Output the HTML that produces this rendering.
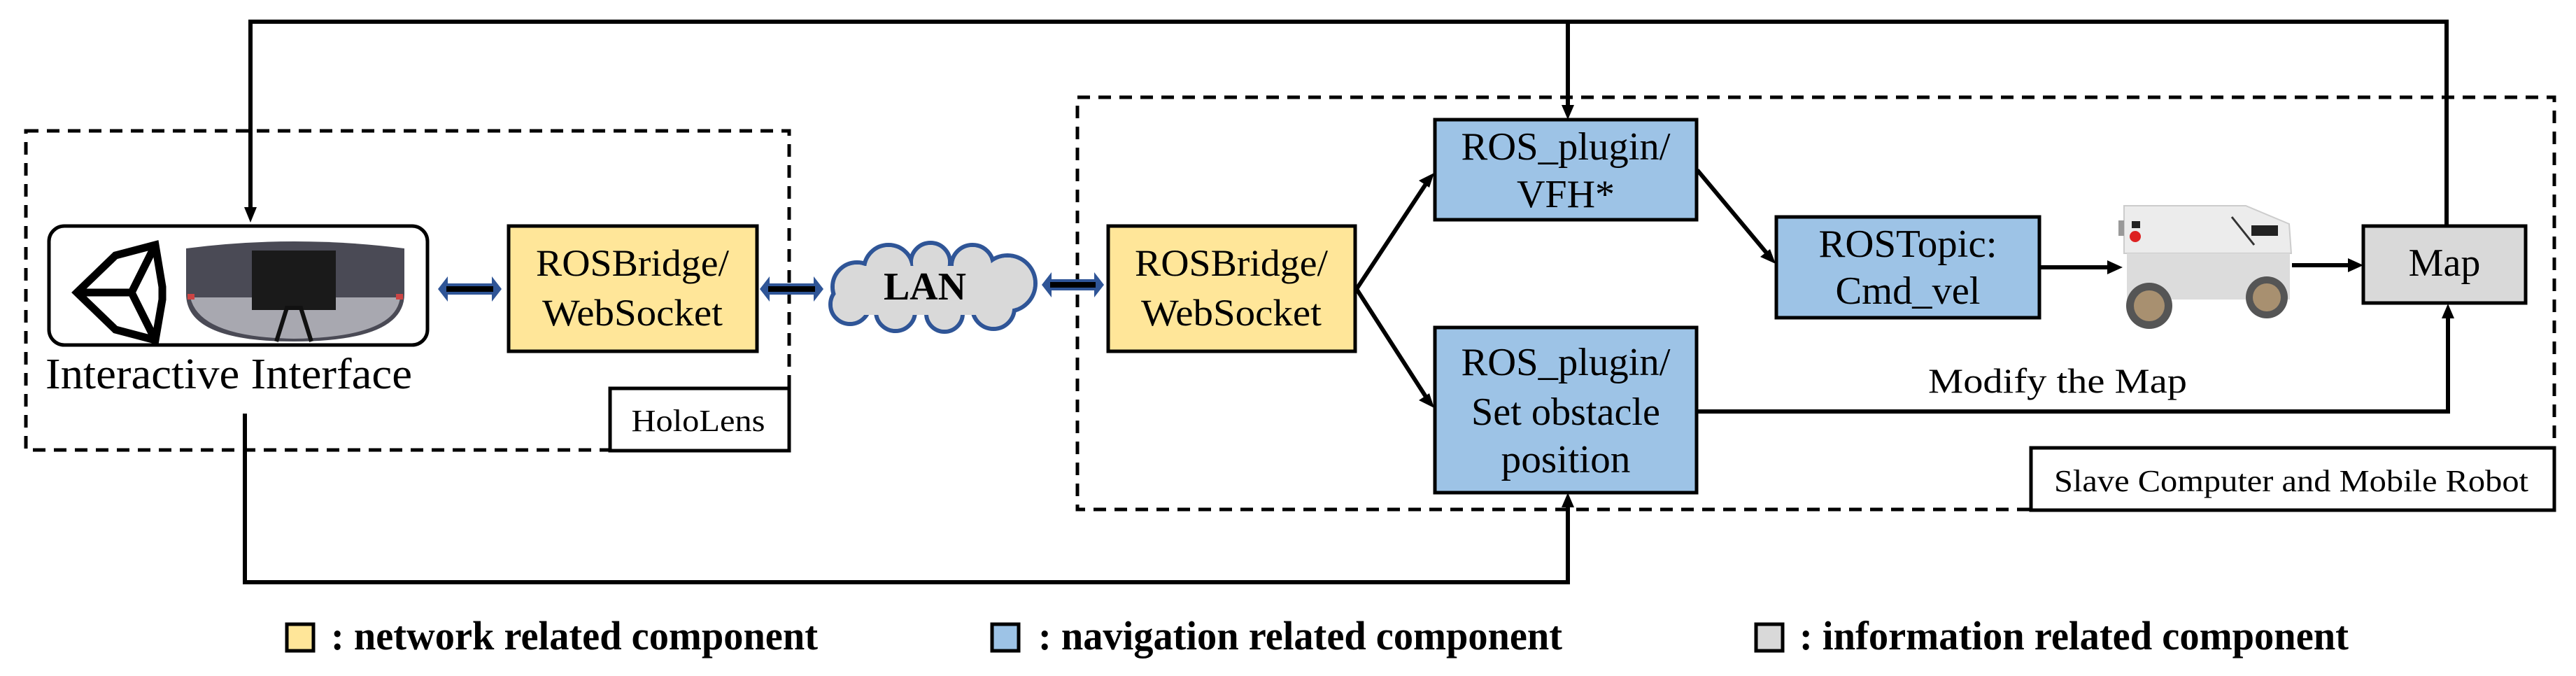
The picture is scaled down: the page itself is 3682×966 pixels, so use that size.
<!DOCTYPE html>
<html><head><meta charset="utf-8"><style>
html,body{margin:0;padding:0;background:#fff}
svg{display:block}
text{font-family:"Liberation Serif","Times New Roman","DejaVu Serif",serif;fill:#000}
</style></head><body>
<svg width="3682" height="966" viewBox="0 0 3682 966" xmlns="http://www.w3.org/2000/svg" font-family="'Liberation Serif', 'Times New Roman', 'DejaVu Serif', serif">
<!-- dashed containers -->
<rect x="37" y="187" width="1091" height="456" fill="none" stroke="#000" stroke-width="5" stroke-dasharray="18,12"/>
<rect x="1540" y="139" width="2111" height="589" fill="none" stroke="#000" stroke-width="5" stroke-dasharray="18,12"/>

<!-- top feedback line -->
<polyline points="358,300 358,31 3497,31 3497,323" fill="none" stroke="#000" stroke-width="6"/>
<polygon points="349,296 367,296 358,318" fill="#000"/>
<line x1="2241" y1="31" x2="2241" y2="155" stroke="#000" stroke-width="6"/>
<polygon points="2232,150 2250,150 2241,171" fill="#000"/>

<!-- bottom line -->
<polyline points="350,591 350,832 2241,832 2241,720" fill="none" stroke="#000" stroke-width="6"/>
<polygon points="2232,725 2250,725 2241,704" fill="#000"/>

<!-- interactive interface box -->
<rect x="70" y="323" width="541" height="170" rx="22" fill="#fff" stroke="#000" stroke-width="5"/>
<!-- unity logo -->
<g fill="none" stroke="#000" stroke-width="11" stroke-linejoin="miter">
<polygon points="110,418 165,365 222,350 232,410 232,428 222,486 165,471"/>
<polyline points="110,418 188,418 222,350"/>
<line x1="188" y1="418" x2="222" y2="486"/>
</g>
<!-- headset -->
<path d="M266,355 Q420,335 578,355 L578,420 Q578,488 420,488 Q266,488 266,420 Z" fill="#4a4a55"/>
<path d="M272,425 Q285,482 420,484 Q565,482 572,425 Z" fill="#a8a8b0"/>
<rect x="360" y="358" width="120" height="85" fill="#1a1a1a"/>
<path d="M395,488 L410,440 L430,440 L445,488" fill="none" stroke="#111" stroke-width="6"/>
<rect x="268" y="420" width="10" height="8" fill="#c44"/>
<rect x="566" y="420" width="10" height="8" fill="#c44"/>
<text x="65" y="555" font-size="62" textLength="524" lengthAdjust="spacingAndGlyphs">Interactive Interface</text>

<!-- ROSBridge 1 -->
<rect x="727" y="323" width="355" height="179" fill="#FFE699" stroke="#000" stroke-width="5"/>
<text x="904" y="394" font-size="54" text-anchor="middle" textLength="276" lengthAdjust="spacingAndGlyphs">ROSBridge/</text>
<text x="904" y="465" font-size="54" text-anchor="middle" textLength="258" lengthAdjust="spacingAndGlyphs">WebSocket</text>

<!-- HoloLens label -->
<rect x="872" y="555" width="256" height="89" fill="#fff" stroke="#000" stroke-width="5"/>
<text x="998" y="616" font-size="44" text-anchor="middle" textLength="191" lengthAdjust="spacingAndGlyphs">HoloLens</text>

<!-- double arrows -->
<g>
<polygon points="626,413 640,395 640,405 703,405 703,395 717,413 703,431 703,421 640,421 640,431" fill="#2f5597"/>
<rect x="638" y="409" width="67" height="8" fill="#000"/>
<polygon points="1086,413 1100,395 1100,405 1163,405 1163,395 1177,413 1163,431 1163,421 1100,421 1100,431" fill="#2f5597"/>
<rect x="1098" y="409" width="67" height="8" fill="#000"/>
<polygon points="1489,407 1503,389 1503,399 1564,399 1564,389 1578,407 1564,425 1564,415 1503,415 1503,425" fill="#2f5597"/>
<rect x="1501" y="403" width="65" height="8" fill="#000"/>
</g>

<!-- cloud -->
<g stroke="#2f5597" stroke-width="6" fill="#d9d9d9">
<circle cx="1225" cy="410" r="35"/><circle cx="1270" cy="385" r="35"/><circle cx="1330" cy="375" r="28"/><circle cx="1390" cy="380" r="30"/><circle cx="1440" cy="405" r="40"/><circle cx="1420" cy="440" r="30"/><circle cx="1350" cy="448" r="26"/><circle cx="1280" cy="445" r="28"/><circle cx="1215" cy="435" r="28"/>
</g>
<g fill="#d9d9d9">
<circle cx="1225" cy="410" r="32"/><circle cx="1270" cy="385" r="32"/><circle cx="1330" cy="375" r="25"/><circle cx="1390" cy="380" r="27"/><circle cx="1440" cy="405" r="37"/><circle cx="1420" cy="440" r="27"/><circle cx="1350" cy="448" r="23"/><circle cx="1280" cy="445" r="25"/><circle cx="1215" cy="435" r="25"/>
<rect x="1220" y="380" width="220" height="70"/>
</g>
<text x="1322" y="428" font-size="56" font-weight="bold" text-anchor="middle" textLength="118" lengthAdjust="spacingAndGlyphs">LAN</text>

<!-- ROSBridge 2 -->
<rect x="1584" y="323" width="353" height="179" fill="#FFE699" stroke="#000" stroke-width="5"/>
<text x="1760" y="394" font-size="54" text-anchor="middle" textLength="276" lengthAdjust="spacingAndGlyphs">ROSBridge/</text>
<text x="1760" y="465" font-size="54" text-anchor="middle" textLength="258" lengthAdjust="spacingAndGlyphs">WebSocket</text>

<!-- diagonal arrows -->
<line x1="1939" y1="413" x2="2040" y2="260" stroke="#000" stroke-width="6"/>
<polygon points="2050,247 2028,258 2043,268" fill="#000"/>
<line x1="1939" y1="413" x2="2040" y2="570" stroke="#000" stroke-width="6"/>
<polygon points="2050,583 2028,572 2043,562" fill="#000"/>
<line x1="2426" y1="243" x2="2528" y2="365" stroke="#000" stroke-width="6"/>
<polygon points="2538,377 2516,367 2530,356" fill="#000"/>

<!-- VFH -->
<rect x="2051" y="171" width="374" height="143" fill="#9DC3E6" stroke="#000" stroke-width="5"/>
<text x="2238" y="228" font-size="56" text-anchor="middle" textLength="299" lengthAdjust="spacingAndGlyphs">ROS_plugin/</text>
<text x="2238" y="296" font-size="56" text-anchor="middle">VFH*</text>

<!-- Set obstacle -->
<rect x="2051" y="468" width="374" height="236" fill="#9DC3E6" stroke="#000" stroke-width="5"/>
<text x="2238" y="536" font-size="56" text-anchor="middle" textLength="299" lengthAdjust="spacingAndGlyphs">ROS_plugin/</text>
<text x="2238" y="607" font-size="56" text-anchor="middle" textLength="270" lengthAdjust="spacingAndGlyphs">Set obstacle</text>
<text x="2238" y="675" font-size="56" text-anchor="middle" textLength="185" lengthAdjust="spacingAndGlyphs">position</text>

<!-- Modify the map line -->
<polyline points="2425,588 3499,588 3499,450" fill="none" stroke="#000" stroke-width="6"/>
<polygon points="3490,455 3508,455 3499,434" fill="#000"/>
<text x="2756" y="561" font-size="50" textLength="370" lengthAdjust="spacingAndGlyphs">Modify the Map</text>

<!-- ROSTopic -->
<rect x="2539" y="310" width="376" height="144" fill="#9DC3E6" stroke="#000" stroke-width="5"/>
<text x="2727" y="367" font-size="56" text-anchor="middle" textLength="255" lengthAdjust="spacingAndGlyphs">ROSTopic:</text>
<text x="2727" y="434" font-size="56" text-anchor="middle" textLength="207" lengthAdjust="spacingAndGlyphs">Cmd_vel</text>

<!-- arrow to robot -->
<line x1="2915" y1="382" x2="3015" y2="382" stroke="#000" stroke-width="6"/>
<polygon points="3012,372 3034,382 3012,392" fill="#000"/>

<!-- robot -->
<path d="M3036,294 L3210,294 L3272,320 L3275,362 L3036,362 Z" fill="#ececec" stroke="#ccc" stroke-width="2"/>
<rect x="3040" y="362" width="233" height="66" fill="#dcdcdc"/>
<rect x="3028" y="315" width="8" height="22" fill="#999"/>
<circle cx="3052" cy="338" r="8" fill="#d22"/>
<rect x="3047" y="316" width="12" height="10" fill="#222"/>
<rect x="3218" y="322" width="38" height="15" fill="#222"/>
<line x1="3190" y1="310" x2="3222" y2="350" stroke="#333" stroke-width="3"/>
<circle cx="3072" cy="437" r="33" fill="#555"/><circle cx="3072" cy="437" r="22" fill="#a89070"/>
<circle cx="3240" cy="425" r="30" fill="#555"/><circle cx="3240" cy="425" r="20" fill="#a89070"/>

<!-- arrow to map -->
<line x1="3276" y1="379" x2="3360" y2="379" stroke="#000" stroke-width="6"/>
<polygon points="3356,369 3378,379 3356,389" fill="#000"/>

<!-- Map -->
<rect x="3378" y="323" width="232" height="110" fill="#D9D9D9" stroke="#000" stroke-width="5"/>
<text x="3494" y="394" font-size="56" text-anchor="middle">Map</text>

<!-- Slave label -->
<rect x="2903" y="640" width="748" height="89" fill="#fff" stroke="#000" stroke-width="5"/>
<text x="2936" y="702" font-size="44" textLength="678" lengthAdjust="spacingAndGlyphs">Slave Computer and Mobile Robot</text>

<!-- legend -->
<rect x="410" y="892" width="38" height="38" fill="#FFE699" stroke="#000" stroke-width="5"/>
<text x="473" y="928" font-size="58" font-weight="bold" textLength="696" lengthAdjust="spacingAndGlyphs">: network related component</text>
<rect x="1418" y="892" width="38" height="38" fill="#9DC3E6" stroke="#000" stroke-width="5"/>
<text x="1484" y="928" font-size="58" font-weight="bold" textLength="749" lengthAdjust="spacingAndGlyphs">: navigation related component</text>
<rect x="2510" y="892" width="38" height="38" fill="#D9D9D9" stroke="#000" stroke-width="5"/>
<text x="2572" y="928" font-size="58" font-weight="bold" textLength="785" lengthAdjust="spacingAndGlyphs">: information related component</text>
</svg>
</body></html>
